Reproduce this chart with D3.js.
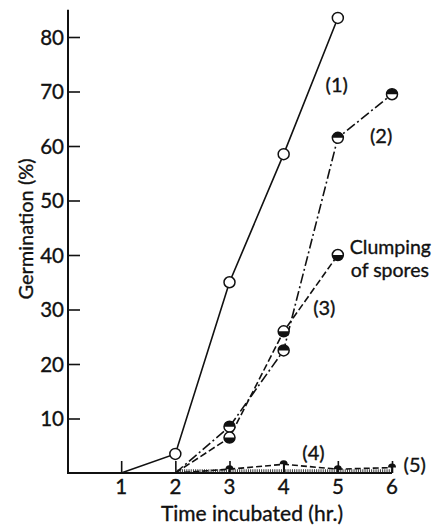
<!DOCTYPE html>
<html>
<head>
<meta charset="utf-8">
<script src="https://cdn.jsdelivr.net/npm/d3@7"></script>
<style>
body { margin: 0; background: #fff; }
svg text { font-family: Lato, "Open Sans", sans-serif; fill: #111; stroke: #111; stroke-width: 0.35; }
</style>
</head>
<body>
<svg id="chart" width="439" height="525"></svg>
<script>
// hours incubated
var hours1 = [1, 2, 3, 4, 5]
var germ1 = [0, 3.5, 35, 58.5, 83.5]

var hours2 = [2, 3, 4, 5, 6]
var germ2 = [0, 8.5, 22.5, 61.5, 69.5]

var hours3 = [2, 3, 4, 5]
var germ3 = [0, 6.5, 26, 40]

var hours4 = [2, 3, 4, 5, 6]
var germ4 = [0, 0.7, 1.6, 0.7, 1.0]

var hours5 = [2, 6]
var germ5 = [0.4, 0.4]

var xTicks = [1, 2, 3, 4, 5, 6]
var yTicks = [10, 20, 30, 40, 50, 60, 70, 80]

var width = 439, height = 525

var x = d3.scaleLinear().domain([0, 6]).range([67, 392])
var y = d3.scaleLinear().domain([0, 80]).range([473, 37])

var svg = d3.select("#chart")

// axes
svg.append("line")
    .attr("x1", x(0) + 1).attr("x2", x(0) + 1)
    .attr("y1", y(0)).attr("y2", y(85))
    .attr("stroke", "#111").attr("stroke-width", 2)
svg.append("line")
    .attr("x1", x(0)).attr("x2", x(6))
    .attr("y1", y(0)).attr("y2", y(0))
    .attr("stroke", "#111").attr("stroke-width", 2)

var yAxis = d3.axisRight(y).tickValues(yTicks).tickSize(12).tickFormat(d => "")
svg.append("g").attr("transform", `translate(${x(0) + 1},0)`).call(yAxis)
    .call(g => g.select(".domain").remove())
    .call(g => g.selectAll("line").attr("stroke", "#111").attr("stroke-width", 1.6))

var xAxis = d3.axisTop(x).tickValues(xTicks).tickSize(12).tickFormat(d => "")
svg.append("g").attr("transform", `translate(0,${y(0)})`).call(xAxis)
    .call(g => g.select(".domain").remove())
    .call(g => g.selectAll("line").attr("stroke", "#111").attr("stroke-width", 1.6))

svg.selectAll(".ylab").data(yTicks).join("text").attr("class", "ylab")
    .attr("x", x(0) - 3).attr("y", d => y(d) + 7.5)
    .attr("text-anchor", "end").attr("font-size", 20.5)
    .text(d => d)

svg.selectAll(".xlab").data(xTicks).join("text").attr("class", "xlab")
    .attr("x", d => x(d)).attr("y", 494)
    .attr("text-anchor", "middle").attr("font-size", 20.5)
    .text(d => d)

svg.append("text").attr("x", 252).attr("y", 521)
    .attr("text-anchor", "middle").attr("font-size", 21)
    .text("Time incubated (hr.)")

svg.append("text")
    .attr("transform", "translate(33,229) rotate(-90)")
    .attr("text-anchor", "middle").attr("font-size", 20)
    .text("Germination (%)")

// lines
var line = d3.line().x(d => x(d[0])).y(d => y(d[1]))
function pts(h, g) { return h.map((d, i) => [d, g[i]]) }

svg.append("path").datum(pts(hours5, germ5)).attr("d", line)
    .attr("fill", "none").attr("stroke", "#333").attr("stroke-width", 3)
    .attr("stroke-dasharray", "1,1.2")
svg.append("path").datum(pts(hours4, germ4)).attr("d", line)
    .attr("fill", "none").attr("stroke", "#111").attr("stroke-width", 1.6)
    .attr("stroke-dasharray", "6,3")
svg.append("path").datum(pts(hours3, germ3)).attr("d", line)
    .attr("fill", "none").attr("stroke", "#111").attr("stroke-width", 1.6)
    .attr("stroke-dasharray", "7,3")
svg.append("path").datum(pts(hours2, germ2)).attr("d", line)
    .attr("fill", "none").attr("stroke", "#111").attr("stroke-width", 1.6)
    .attr("stroke-dasharray", "10,3,2,3")
svg.append("path").datum(pts(hours1, germ1)).attr("d", line)
    .attr("fill", "none").attr("stroke", "#111").attr("stroke-width", 1.6)

// markers
var r = 5.5
var topHalf = `M${-r},0 A${r},${r} 0 0 1 ${r},0 Z`
var botHalf = `M${-r},0 A${r},${r} 0 0 0 ${r},0 Z`

svg.selectAll(".m1").data(pts(hours1, germ1).slice(1)).join("circle").attr("class", "m1")
    .attr("cx", d => x(d[0])).attr("cy", d => y(d[1])).attr("r", r)
    .attr("fill", "#fff").attr("stroke", "#111").attr("stroke-width", 1.5)

function halfMarks(cls, data, half) {
    var g = svg.selectAll("." + cls).data(data).join("g").attr("class", cls)
        .attr("transform", d => `translate(${x(d[0])},${y(d[1])})`)
    g.append("circle").attr("r", r).attr("fill", "#fff").attr("stroke", "#111").attr("stroke-width", 1.5)
    g.append("path").attr("d", half).attr("fill", "#111")
}
halfMarks("m2", pts(hours2, germ2).slice(1), topHalf)
halfMarks("m3", pts(hours3, germ3).slice(1), botHalf)

var r4 = 4
var g4 = svg.selectAll(".m4").data(pts(hours4, germ4).slice(1)).join("g").attr("class", "m4")
    .attr("transform", d => `translate(${x(d[0])},${y(d[1])})`)
g4.append("path").attr("d", `M${-r4},0 A${r4},${r4} 0 0 1 ${r4},0 Z`).attr("fill", "#111")
g4.append("line").attr("y1", 0).attr("y2", d => y(0) - y(d[1])).attr("stroke", "#111").attr("stroke-width", 1.5)

// series labels
var labels = [
    {t: "(1)", h: 4.98, v: 70},
    {t: "(2)", h: 5.8, v: 60.5},
    {t: "(3)", h: 4.75, v: 29},
    {t: "(4)", h: 4.55, v: 2.4},
    {t: "(5)", h: 6.42, v: 0.1}
]
svg.selectAll(".slab").data(labels).join("text").attr("class", "slab")
    .attr("x", d => x(d.h)).attr("y", d => y(d.v))
    .attr("text-anchor", "middle").attr("font-size", 20)
    .text(d => d.t)

svg.append("text").attr("x", x(5) + 12).attr("y", 254).attr("font-size", 19.5).text("Clumping")
svg.append("text").attr("x", x(5) + 13).attr("y", 277).attr("font-size", 19.5).text("of spores")
</script>
</body>
</html>
